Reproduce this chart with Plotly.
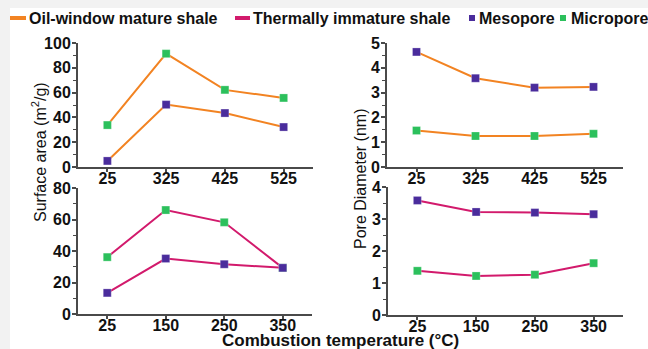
import plotly.graph_objects as go

# Combustion temperatures (°C) for each sample set
temps_mature = ["25", "325", "425", "525"]
temps_immature = ["25", "150", "250", "350"]

# Oil-window mature shale
mature_area_meso = [4.9, 50.3, 43.5, 32.2]
mature_area_micro = [33.8, 91.4, 62.2, 55.7]
mature_diam_meso = [4.64, 3.58, 3.20, 3.23]
mature_diam_micro = [1.47, 1.25, 1.25, 1.34]

# Thermally immature shale
immature_area_meso = [13.4, 35.2, 31.6, 29.3]
immature_area_micro = [36.1, 66.0, 58.2, 29.3]
immature_diam_meso = [3.58, 3.22, 3.20, 3.15]
immature_diam_micro = [1.38, 1.22, 1.26, 1.62]

legend_labels = ["Oil-window mature shale", "Thermally immature shale", "Mesopore", "Micropore"]

ORANGE = "#f28322"
MAGENTA = "#d21a6c"
PURPLE = "#4a2c9c"
GREEN = "#2cc05c"
AXIS = "#4a4a4a"
FONT = "Liberation Sans, Arial, sans-serif"

W, H = 648, 349


def px_x(v):
    return v / W


def px_y(v):
    return 1 - v / H


fig = go.Figure()


def add_panel(xs, meso, micro, line_color, xa, ya):
    for vals, mcol in ((micro, GREEN), (meso, PURPLE)):
        fig.add_trace(go.Scatter(
            x=xs, y=vals, xaxis=xa, yaxis=ya, mode="lines+markers",
            line=dict(color=line_color, width=2),
            marker=dict(symbol="square", size=8, color=mcol,
                        line=dict(color="rgba(255,255,255,0.5)", width=0.5)),
            showlegend=False, hoverinfo="x+y",
        ))


add_panel(temps_mature, mature_area_meso, mature_area_micro, ORANGE, "x", "y")
add_panel(temps_mature, mature_diam_meso, mature_diam_micro, ORANGE, "x2", "y2")
add_panel(temps_immature, immature_area_meso, immature_area_micro, MAGENTA, "x3", "y3")
add_panel(temps_immature, immature_diam_meso, immature_diam_micro, MAGENTA, "x4", "y4")

tickfont = dict(family=FONT, size=16, color="#111111", weight="bold")


def xaxis_cfg(x0, x1, anchor, cats):
    return dict(
        domain=[px_x(x0), px_x(x1)], anchor=anchor, type="category",
        categoryorder="array", categoryarray=cats, range=[-0.5, 3.5],
        showline=True, linecolor=AXIS, linewidth=2, showgrid=False, zeroline=False,
        ticks="outside", ticklen=3, tickwidth=1.5, tickcolor=AXIS,
        tickfont=tickfont, ticklabelstandoff=-7, fixedrange=True, automargin=False,
    )


def yaxis_cfg(top, bottom, anchor, ymax, dtick):
    return dict(
        domain=[px_y(bottom), px_y(top)], anchor=anchor, range=[0, ymax],
        showline=True, linecolor=AXIS, linewidth=2, showgrid=False, zeroline=False,
        ticks="outside", ticklen=4, tickwidth=1.5, tickcolor=AXIS, dtick=dtick,
        minor=dict(ticks="outside", ticklen=3, tickwidth=1.2, tickcolor=AXIS, dtick=dtick / 2),
        tickfont=tickfont, ticklabelstandoff=-2, fixedrange=True, automargin=False,
    )


fig.update_layout(
    xaxis=xaxis_cfg(78, 313, "y", temps_mature),
    yaxis=yaxis_cfg(43, 167, "x", 100, 20),
    xaxis2=xaxis_cfg(387, 623, "y2", temps_mature),
    yaxis2=yaxis_cfg(43, 167, "x2", 5, 1),
    xaxis3=xaxis_cfg(78, 312, "y3", temps_immature),
    yaxis3=yaxis_cfg(188, 314, "x3", 80, 20),
    xaxis4=xaxis_cfg(388, 623, "y4", temps_immature),
    yaxis4=yaxis_cfg(187, 315, "x4", 4, 1),
)

shapes = [
    # white page area over the light grey canvas
    dict(type="rect", xref="paper", yref="paper", x0=px_x(10), x1=1, y0=0, y1=px_y(8),
         fillcolor="white", line=dict(width=0), layer="below"),
]
annotations = []

# Legend row along the top
legend_items = [
    ("line", ORANGE, 10, 26, 27),
    ("line", MAGENTA, 235, 250, 251),
    ("square", PURPLE, 469, 475, 477),
    ("square", GREEN, 560, 566, 569),
]
ly = 18
for (kind, col, s0, s1, tx), label in zip(legend_items, legend_labels):
    if kind == "line":
        shapes.append(dict(type="line", xref="paper", yref="paper",
                           x0=px_x(s0), x1=px_x(s1), y0=px_y(ly), y1=px_y(ly),
                           line=dict(color=col, width=4)))
    else:
        shapes.append(dict(type="rect", xref="paper", yref="paper",
                           x0=px_x(s0), x1=px_x(s1), y0=px_y(ly + 3), y1=px_y(ly - 3),
                           fillcolor=col, line=dict(width=0)))
    annotations.append(dict(
        text=label, xref="paper", yref="paper", x=px_x(tx), y=px_y(ly),
        xanchor="left", yanchor="middle", showarrow=False,
        font=dict(family=FONT, size=16, color="#111111", weight="bold"),
    ))

# Axis titles
annotations += [
    dict(text="Surface area (m<sup>2</sup>/g)", xref="paper", yref="paper",
         x=px_x(39), y=px_y(152), textangle=-90, showarrow=False,
         xanchor="center", yanchor="middle",
         font=dict(family=FONT, size=16, color="#111111")),
    dict(text="Pore Diameter (nm)", xref="paper", yref="paper",
         x=px_x(360), y=px_y(179), textangle=-90, showarrow=False,
         xanchor="center", yanchor="middle",
         font=dict(family=FONT, size=16, color="#111111")),
    dict(text="Combustion temperature (°C)", xref="paper", yref="paper",
         x=px_x(340), y=px_y(340), showarrow=False,
         xanchor="center", yanchor="middle",
         font=dict(family=FONT, size=17, color="#111111", weight="bold")),
]

fig.update_layout(
    width=W, height=H, margin=dict(l=0, r=0, t=0, b=0, autoexpand=False),
    paper_bgcolor="#f2f2f2", plot_bgcolor="rgba(0,0,0,0)",
    showlegend=False, shapes=shapes, annotations=annotations,
    font=dict(family=FONT),
)

fig.write_html("out.html")
